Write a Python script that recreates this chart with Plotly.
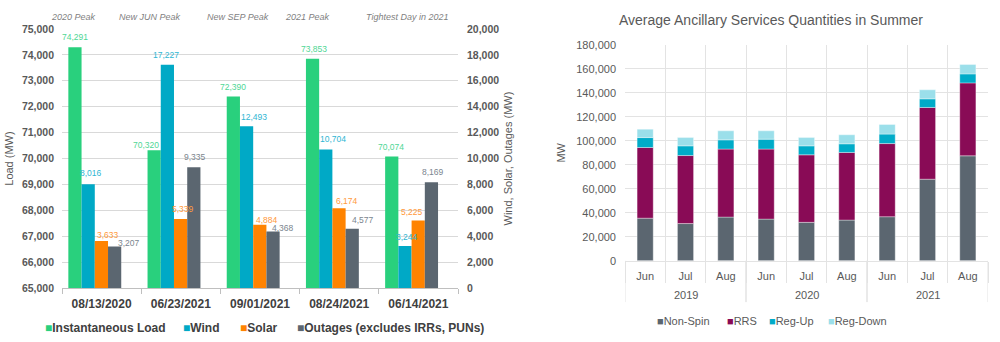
import plotly.graph_objects as go

# ---------------- data: left chart ----------------
dates = ['08/13/2020', '06/23/2021', '09/01/2021', '08/24/2021', '06/14/2021']
peak_notes = ['2020 Peak', 'New JUN Peak', 'New SEP Peak', '2021 Peak', 'Tightest Day in 2021']
load = [74291, 70320, 72390, 73853, 70074]
wind = [8016, 17227, 12493, 10704, 3244]
solar = [3633, 5339, 4884, 6174, 5225]
outages = [3207, 9335, 4368, 4577, 8169]

# ---------------- data: right chart ----------------
as_years = ['2019', '2019', '2019', '2020', '2020', '2020', '2021', '2021', '2021']
as_months = ['Jun', 'Jul', 'Aug', 'Jun', 'Jul', 'Aug', 'Jun', 'Jul', 'Aug']
non_spin = [35500, 31000, 36400, 34700, 32000, 33900, 36700, 68000, 87500]
rrs = [58900, 56700, 56700, 58400, 56300, 56400, 61000, 59800, 60800]
reg_up = [8300, 8100, 7700, 8300, 7500, 7200, 7900, 7200, 7500]
reg_down = [7000, 6900, 7500, 6900, 6900, 7500, 8000, 7500, 7800]

# ---------------- label nudges (pixels, style only) ----------------
load_lbl_dx = [0, -8, 0, 1, -1]
load_lbl_dy = [10, 5, 10, 10, 10]
wind_lbl_dx = [3, -1, 7, 7, 2]
wind_lbl_dy = [11, 10, 9, 10, 9]
solar_lbl_dx = [7, 2, 7, 8, -6]
solar_lbl_dy = [6, 10, 5, 7, 8]
out_lbl_dx = [14, 1, 10, 11, 2]
out_lbl_dy = [4, 10, 4, 9, 10]

W, H = 1000, 342
FONT = 'Liberation Sans, Arial, sans-serif'


def fx(p):
    return p / W


def fy(p):
    return 1 - p / H


C_LOAD, C_WIND, C_SOLAR, C_OUT = '#29D07D', '#00A9C6', '#FF8300', '#5B6670'
L_LOAD, L_WIND, L_SOLAR, L_OUT = '#4FD695', '#2FB6D3', '#FF9A3C', '#7B858E'
C_NS, C_RRS, C_UP, C_DN = '#5B6670', '#890B56', '#00ABC8', '#9BDFEA'
grid_l = '#D9D9D9'
grid_r = '#E3E3E3'
tick_col = '#595959'

fig = go.Figure()
layout_legends = {}
annotations = []


def legend_name(name, col):
    return f"<span style='color:{col}'>\u25A0</span>{name}"


# ---- left chart: clustered bars on two y axes ----
bw = 0.167
left_series = [
    ('Instantaneous Load', load, C_LOAD, L_LOAD, 'y', -0.42, load_lbl_dx, load_lbl_dy),
    ('Wind', wind, C_WIND, L_WIND, 'y2', -0.253, wind_lbl_dx, wind_lbl_dy),
    ('Solar', solar, C_SOLAR, L_SOLAR, 'y2', -0.086, solar_lbl_dx, solar_lbl_dy),
    ('Outages (excludes IRRs, PUNs)', outages, C_OUT, L_OUT, 'y2', 0.081, out_lbl_dx, out_lbl_dy),
]
left_leg_x = [45, 183, 240, 297]
leg_i = 1
for (name, vals, col, lcol, ya, off, ldx, ldy), lx in zip(left_series, left_leg_x):
    fig.add_trace(go.Bar(
        x=dates, y=vals, name=name, xaxis='x', yaxis=ya,
        width=bw, offset=off, marker=dict(color=col, line=dict(width=0)),
        showlegend=False,
    ))
    # data labels (drawn above all bars)
    for i, v in enumerate(vals):
        annotations.append(dict(
            text=f'{v:,}', x=i + off + bw / 2, y=v, xref='x', yref=ya,
            xanchor='center', yanchor='middle', showarrow=False,
            xshift=ldx[i], yshift=ldy[i],
            font=dict(family=FONT, size=8.5, color=lcol),
        ))
    lname = 'legend' if leg_i == 1 else f'legend{leg_i}'
    fig.add_trace(go.Scatter(
        x=[None], y=[None], mode='markers', name=legend_name(name, col),
        xaxis='x', yaxis='y',
        marker=dict(symbol='square', size=1, color='rgba(0,0,0,0)'), legend=lname,
    ))
    layout_legends[lname] = dict(
        orientation='h', x=fx(lx - 40), y=fy(328), xanchor='left', yanchor='middle',
        font=dict(family=FONT, size=12, color='#404040', weight='bold'),
        itemwidth=30, bgcolor='rgba(0,0,0,0)',
    )
    leg_i += 1

# ---- right chart: stacked bars, month categories grouped by year ----
as_keys = [f'{m} {y}' for y, m in zip(as_years, as_months)]
right_series = [
    ('Non-Spin', non_spin, C_NS),
    ('RRS', rrs, C_RRS),
    ('Reg-Up', reg_up, C_UP),
    ('Reg-Down', reg_down, C_DN),
]
right_leg_x = [657, 727, 769, 828]
running = [0] * len(as_months)
for (name, vals, col), lx in zip(right_series, right_leg_x):
    fig.add_trace(go.Bar(
        x=as_keys, y=vals, base=list(running), name=name,
        xaxis='x2', yaxis='y3', width=0.4,
        marker=dict(color=col, line=dict(width=0.6, color='rgba(255,255,255,0.6)')),
        showlegend=False,
    ))
    running = [r + v for r, v in zip(running, vals)]
    lname = f'legend{leg_i}'
    fig.add_trace(go.Scatter(
        x=[None], y=[None], mode='markers', name=legend_name(name, col),
        xaxis='x', yaxis='y',
        marker=dict(symbol='square', size=1, color='rgba(0,0,0,0)'), legend=lname,
    ))
    layout_legends[lname] = dict(
        orientation='h', x=fx(lx - 40), y=fy(321), xanchor='left', yanchor='middle',
        font=dict(family=FONT, size=11, color=tick_col),
        itemwidth=30, bgcolor='rgba(0,0,0,0)',
    )
    leg_i += 1

fig.update_layout(
    width=W, height=H,
    margin=dict(l=0, r=0, t=0, b=0),
    paper_bgcolor='white', plot_bgcolor='white',
    barmode='overlay',
    font=dict(family=FONT, color=tick_col),
    xaxis=dict(
        domain=[fx(62), fx(458)], anchor='y', type='category', range=[-0.5, 4.5],
        showgrid=False, showline=True, linecolor='#BFBFBF', linewidth=1,
        ticks='outside', tickson='boundaries', ticklen=5, tickcolor='#BFBFBF',
        ticklabelstandoff=4,
        tickfont=dict(family=FONT, size=12, color='#404040', weight='bold'),
        automargin=False, fixedrange=True,
    ),
    yaxis=dict(
        domain=[fy(289), fy(29)], anchor='x', range=[65000, 75000], dtick=1000,
        tickformat=',', showgrid=True, gridcolor=grid_l, gridwidth=1.3,
        zeroline=False, showline=False, ticks='', ticklabelstandoff=7,
        tickfont=dict(family=FONT, size=10.5, color=tick_col, weight='bold'),
        title=dict(text='Load (MW)', standoff=6, font=dict(family=FONT, size=11, color=tick_col)),
        automargin=False,
    ),
    yaxis2=dict(
        overlaying='y', side='right', anchor='x', range=[0, 20000], dtick=2000,
        tickformat=',', showgrid=False, zeroline=False, showline=False,
        ticks='', ticklabelstandoff=8,
        tickfont=dict(family=FONT, size=10.5, color=tick_col, weight='bold'),
        title=dict(text='Wind, Solar, Outages (MW)', standoff=6,
                   font=dict(family=FONT, size=11, color=tick_col)),
        automargin=False,
    ),
    xaxis2=dict(
        domain=[fx(625), fx(988)], anchor='y3', type='category',
        range=[-0.5, len(as_keys) - 0.5],
        tickvals=as_keys, ticktext=as_months,
        showgrid=True, gridcolor=grid_r, gridwidth=1, tickson='boundaries',
        ticks='outside', ticklen=21, tickcolor=grid_r,
        ticklabelstandoff=5,
        showline=True, linecolor=grid_r, linewidth=1,
        tickfont=dict(family=FONT, size=11, color=tick_col),
        automargin=False,
    ),
    yaxis3=dict(
        domain=[fy(261.5), fy(45)], anchor='x2', range=[0, 180000], dtick=20000,
        tickformat=',', showgrid=True, gridcolor=grid_r, gridwidth=1.3,
        zeroline=False, showline=False, ticks='', ticklabelstandoff=8,
        tickfont=dict(family=FONT, size=11, color=tick_col),
        title=dict(text='MW', standoff=8, font=dict(family=FONT, size=11, color=tick_col)),
        automargin=False,
    ),
    **layout_legends,
)

note_x = [73, 150, 238, 307, 407]
for txt, px in zip(peak_notes, note_x):
    annotations.append(dict(
        text=txt, x=fx(px), y=fy(17), xref='paper', yref='paper',
        xanchor='center', yanchor='middle', showarrow=False,
        font=dict(family=FONT, size=9, color='#7F7F7F', style='italic'),
    ))
annotations.append(dict(
    text='Average Ancillary Services Quantities in Summer',
    x=fx(771), y=fy(20), xref='paper', yref='paper',
    xanchor='center', yanchor='middle', showarrow=False,
    font=dict(family=FONT, size=14, color=tick_col),
))

# year group labels and dividers under the month labels
shapes = []
years_unique = []
for y in as_years:
    if y not in years_unique:
        years_unique.append(y)
for y in years_unique:
    idx = [i for i, v in enumerate(as_years) if v == y]
    annotations.append(dict(
        text=y, x=(idx[0] + idx[-1]) / 2, y=fy(296), xref='x2', yref='paper',
        xanchor='center', yanchor='middle', showarrow=False,
        font=dict(family=FONT, size=11, color=tick_col),
    ))
    for edge in (idx[0] - 0.5, idx[-1] + 0.5):
        shapes.append(dict(
            type='line', xref='x2', yref='paper', x0=edge, x1=edge,
            y0=fy(261.5), y1=fy(303), line=dict(color=grid_r, width=1),
        ))
fig.update_layout(annotations=annotations, shapes=shapes)

fig.write_html('out.html')
